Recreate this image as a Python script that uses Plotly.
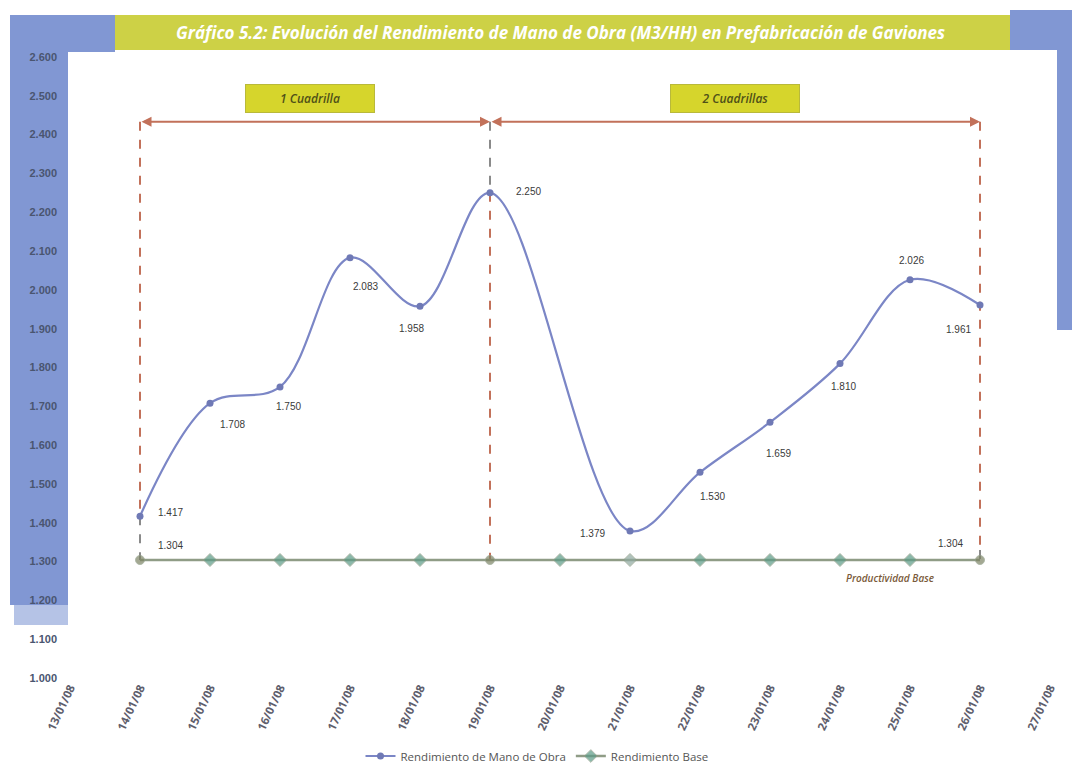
import plotly.graph_objects as go

# Dates on the category axis
fechas = ["13/01/08", "14/01/08", "15/01/08", "16/01/08", "17/01/08", "18/01/08",
          "19/01/08", "20/01/08", "21/01/08", "22/01/08", "23/01/08", "24/01/08",
          "25/01/08", "26/01/08", "27/01/08"]

# Labour productivity (M3/HH); no work on Sundays 13, 20 and 27
rendimiento = [None, 1.417, 1.708, 1.750, 2.083, 1.958, 2.250,
               None, 1.379, 1.530, 1.659, 1.810, 2.026, 1.961, None]

# Base productivity
base = [None] + [1.304] * 13 + [None]

y_ticks = [1.0, 1.1, 1.2, 1.3, 1.4, 1.5, 1.6, 1.7, 1.8, 1.9, 2.0, 2.1, 2.2, 2.3, 2.4, 2.5, 2.6]

# label offsets (pixels) for each productivity point
label_shift = {1: (30, 4), 2: (22, -21), 3: (8, -20), 4: (15, -29), 5: (-9, -22),
               6: (38, 1), 8: (-38, -3), 9: (12, -24), 10: (8, -31), 11: (3, -23),
               12: (1, 19), 13: (-22, -24)}

ML, MR, MT, MB = 70, 22, 57, 93
W, H = 1072, 771
PW, PH = W - ML - MR, H - MT - MB


def px(x):
    return (x - ML) / PW


def py(y):
    return (H - MB - y) / PH


BLUE = "#8197d3"
YELLOW = "#cdd146"
RED = "#c2715a"
GRAYDASH = "#8a8a8a"

fig = go.Figure()

fig.add_trace(go.Scatter(
    x=fechas, y=base, name="Rendimiento Base", mode="lines+markers",
    line=dict(color="#8f9c86", width=2.5),
    marker=dict(
        symbol=["diamond" if i not in (1, 6, 13) else "circle" for i in range(len(fechas))],
        size=[10 if i not in (1, 6, 13) else 9 for i in range(len(fechas))],
        color=["#7d8464" if i in (1, 6, 13) else ("#8fa9a0" if i == 8 else "#5b9b87")
               for i in range(len(fechas))],
    ),
))

fig.add_trace(go.Scatter(
    x=fechas, y=rendimiento, name="Rendimiento de Mano de Obra", mode="lines+markers",
    connectgaps=True,
    line=dict(color="#7b86c6", width=2.2, shape="spline", smoothing=1.0),
    marker=dict(symbol="circle", size=7, color="#6f79b5"),
))

# vertical dashed guides for the crew periods
ARROW_Y = 2.433
guides = [
    (1, ARROW_Y, rendimiento[1], RED), (1, rendimiento[1], base[1], GRAYDASH),
    (6, ARROW_Y, rendimiento[6], GRAYDASH), (6, rendimiento[6], base[6], RED),
    (13, ARROW_Y, 1.33, RED), (13, 1.33, base[13], GRAYDASH),
]
for xi, y0, y1, col in guides:
    fig.add_shape(type="line", xref="x", yref="y", x0=xi, x1=xi, y0=y0, y1=y1,
                  line=dict(color=col, width=2, dash="dash"), layer="below")

# double-headed arrows marking the periods
for a, b in [(1, 6), (6, 13)]:
    fig.add_annotation(x=b, y=ARROW_Y, ax=a, ay=ARROW_Y, xref="x", yref="y",
                       axref="x", ayref="y", text="", showarrow=True,
                       arrowhead=2, arrowside="end+start", arrowsize=1,
                       arrowwidth=2, arrowcolor=RED)

# period boxes
for xc, txt in [(3.43, "1 Cuadrilla"), (9.5, "2 Cuadrillas")]:
    fig.add_annotation(x=xc, y=2.494, xref="x", yref="y", text=txt, showarrow=False,
                       font=dict(family="Open Sans", size=12, color="#4f5018",
                                 style="italic", weight=600),
                       bgcolor="#d6d52c", bordercolor="#b9b93a", borderwidth=1,
                       borderpad=5, width=118)

# value labels
for i, v in enumerate(rendimiento):
    if v is None:
        continue
    dx, dy = label_shift[i]
    fig.add_annotation(x=fechas[i], y=v, xref="x", yref="y", text=f"{v:.3f}",
                       showarrow=False, xshift=dx, yshift=dy,
                       font=dict(family="Liberation Sans", size=10, color="#3a3a3a"))

for i, dx, dy in [(1, 30, 15), (13, -30, 17)]:
    fig.add_annotation(x=fechas[i], y=base[i], xref="x", yref="y", text=f"{base[i]:.3f}",
                       showarrow=False, xshift=dx, yshift=dy,
                       font=dict(family="Liberation Sans", size=10, color="#3a3a3a"))

fig.add_annotation(x=11.71, y=1.258, xref="x", yref="y", text="Productividad Base",
                   showarrow=False,
                   font=dict(family="Open Sans", size=10, color="#7a5a3a", style="italic",
                             weight=600))

# frame: blue strip behind the y labels, title band and right strip
fig.add_shape(type="rect", xref="paper", yref="paper", x0=px(10), x1=px(68),
              y0=py(605), y1=py(15), fillcolor=BLUE, line_width=0, layer="below")
fig.add_shape(type="rect", xref="paper", yref="paper", x0=px(14), x1=px(68),
              y0=py(625), y1=py(605), fillcolor="#b5c3e6", line_width=0, layer="below")
fig.add_shape(type="rect", xref="paper", yref="paper", x0=px(68), x1=px(115),
              y0=py(52), y1=py(15), fillcolor=BLUE, line_width=0, layer="below")
fig.add_shape(type="rect", xref="paper", yref="paper", x0=px(115), x1=px(1010),
              y0=py(50), y1=py(15), fillcolor=YELLOW, line_width=0, layer="below")
fig.add_shape(type="rect", xref="paper", yref="paper", x0=px(1010), x1=px(1072),
              y0=py(50), y1=py(10), fillcolor=BLUE, line_width=0, layer="below")
fig.add_shape(type="rect", xref="paper", yref="paper", x0=px(1057), x1=px(1072),
              y0=py(330), y1=py(50), fillcolor=BLUE, line_width=0, layer="below")

fig.add_annotation(xref="paper", yref="paper", x=px(560), y=py(32),
                   xanchor="center", yanchor="middle",
                   text="Gráfico 5.2: Evolución del Rendimiento de Mano de Obra (M3/HH) en Prefabricación de Gaviones",
                   showarrow=False,
                   font=dict(family="Open Sans", size=17, color="#ffffff", style="italic",
                             weight="bold"))

fig.update_layout(
    width=W, height=H,
    margin=dict(l=ML, r=MR, t=MT, b=MB, autoexpand=False),
    paper_bgcolor="#ffffff", plot_bgcolor="rgba(0,0,0,0)",
    showlegend=True,
    legend=dict(orientation="h", x=px(537), xanchor="center", y=py(756), yanchor="middle",
                traceorder="reversed",
                font=dict(family="Open Sans", size=11.5, color="#555555")),
    xaxis=dict(type="category", categoryorder="array", categoryarray=fechas,
               range=[0, 14], tickangle=-65, showgrid=False, zeroline=False,
               showline=False, ticks="", automargin=False,
               tickfont=dict(family="Open Sans", size=11.5, color="#5e5e6c", weight=700)),
    yaxis=dict(range=[1.0, 2.6], tickvals=y_ticks, tickformat=".3f",
               showgrid=False, zeroline=False, showline=False, ticks="", automargin=False,
               ticklabelstandoff=12,
               tickfont=dict(family="Liberation Sans", size=11, color="#4a5570", weight="bold")),
)

fig.write_html("out.html")
